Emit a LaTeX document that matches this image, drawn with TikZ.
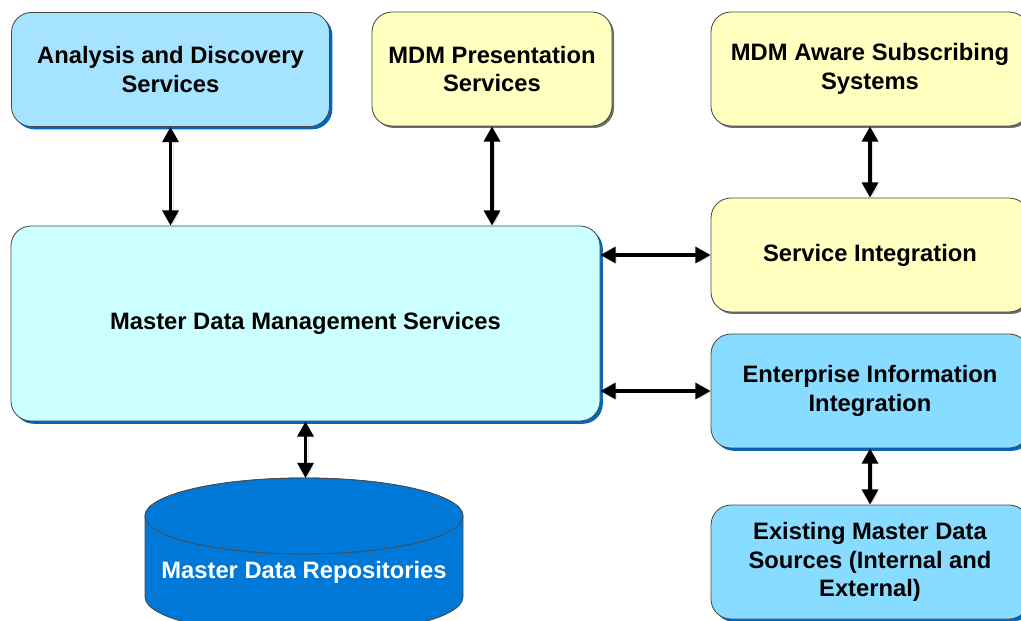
\documentclass[tikz,border=0pt]{standalone}
\usepackage{fontspec}
\setmainfont{Liberation Sans}
\usepackage{tikz}
\usetikzlibrary{shapes,arrows.meta,shadows,positioning}
\definecolor{boxline}{HTML}{4A4A4A}
\definecolor{adsblue}{HTML}{A6E3FF}
\definecolor{eiiblue}{HTML}{88DCFF}
\definecolor{coreblue}{HTML}{CCFFFF}
\definecolor{mdmyellow}{HTML}{FFFFC0}
\definecolor{repoblue}{HTML}{0078D7}
\definecolor{shblue}{HTML}{0066C0}
\definecolor{shgray}{HTML}{6E6E6E}
\newcommand{\boxfont}{\bfseries\fontsize{16.9}{20.3}\selectfont}
\tikzset{%
    mdm_box/.style={%
        rectangle, rounded corners=0.5cm, draw=boxline, line width=0.6pt, text centered, align=center,
        minimum width=7.95cm, minimum height=2.85cm, font=\boxfont
    },
    mdm_blue/.style={%
        mdm_box, fill=#1, drop shadow={shadow xshift=0.07cm, shadow yshift=-0.07cm, fill=shblue, opacity=1}
    },
    mdm_yellow/.style={%
        mdm_box, fill=mdmyellow, drop shadow={shadow xshift=0.05cm, shadow yshift=-0.05cm, fill=shgray, opacity=1}
    },
    repository/.style={%
        draw=boxline, line width=0.6pt, fill=repoblue
    },
    repo_label/.style={%
        text=white, font=\boxfont
    },
    com/.style={%
        {Triangle[length=0.38cm,width=0.4cm]}-{Triangle[length=0.38cm,width=0.4cm]}, line width=2.3pt,
        preaction={draw=black!12, transform canvas={shift={(0.06cm,-0.04cm)}}}
    },
}
\begin{document}
\begin{tikzpicture}
      \clip (0,0) rectangle (25.525,15.5);
      \node[mdm_blue=adsblue] (ads) at (4.2625,13.7625) {Analysis and Discovery\\Services};
      \node[mdm_yellow, minimum width=6cm] (mdmp) at (12.3,13.775) {MDM Presentation\\Services};
      \node[mdm_yellow] (aware) at (21.75,13.775) {MDM Aware Subscribing\\Systems};
      \node[mdm_yellow] (si) at (21.75,9.125) {Service Integration};
      \node[mdm_blue=eiiblue] (eii) at (21.75,5.725) {Enterprise Information\\Integration};
      \node[mdm_blue=eiiblue] (emds) at (21.75,1.45) {Existing Master Data\\Sources (Internal and\\External)};
      \node[mdm_blue=coreblue, minimum width=14.725cm, minimum height=4.875cm] (mdms) at (7.6375,7.4125) {Master Data Management Services};
      % repository drum
      \draw[repository] (3.625,2.6) -- (3.625,0.575) arc[start angle=180, end angle=360, x radius=3.975cm, y radius=0.95cm]
        -- (11.575,2.6) arc[start angle=0, end angle=180, x radius=3.975cm, y radius=0.95cm] -- cycle;
      \draw[repository] (7.6,2.6) ellipse[x radius=3.975cm, y radius=0.95cm];
      \coordinate (repo_top) at (7.6,3.55);
      \node[repo_label] (repo) at (7.6,1.2) {Master Data Repositories};
      % connections
      \draw[com] (ads.south) -- (ads.south |- mdms.north);
      \draw[com] (mdmp.south) -- (mdmp.south |- mdms.north);
      \draw[com] (aware.south) -- (si.north);
      \draw[com] (si.west -| mdms.east) -- (si.west);
      \draw[com] (eii.west -| mdms.east) -- (eii.west);
      \draw[com] (mdms.south) -- (mdms.south |- repo_top);
      \draw[com] (eii.south) -- (emds.north);
\end{tikzpicture}
\end{document}
